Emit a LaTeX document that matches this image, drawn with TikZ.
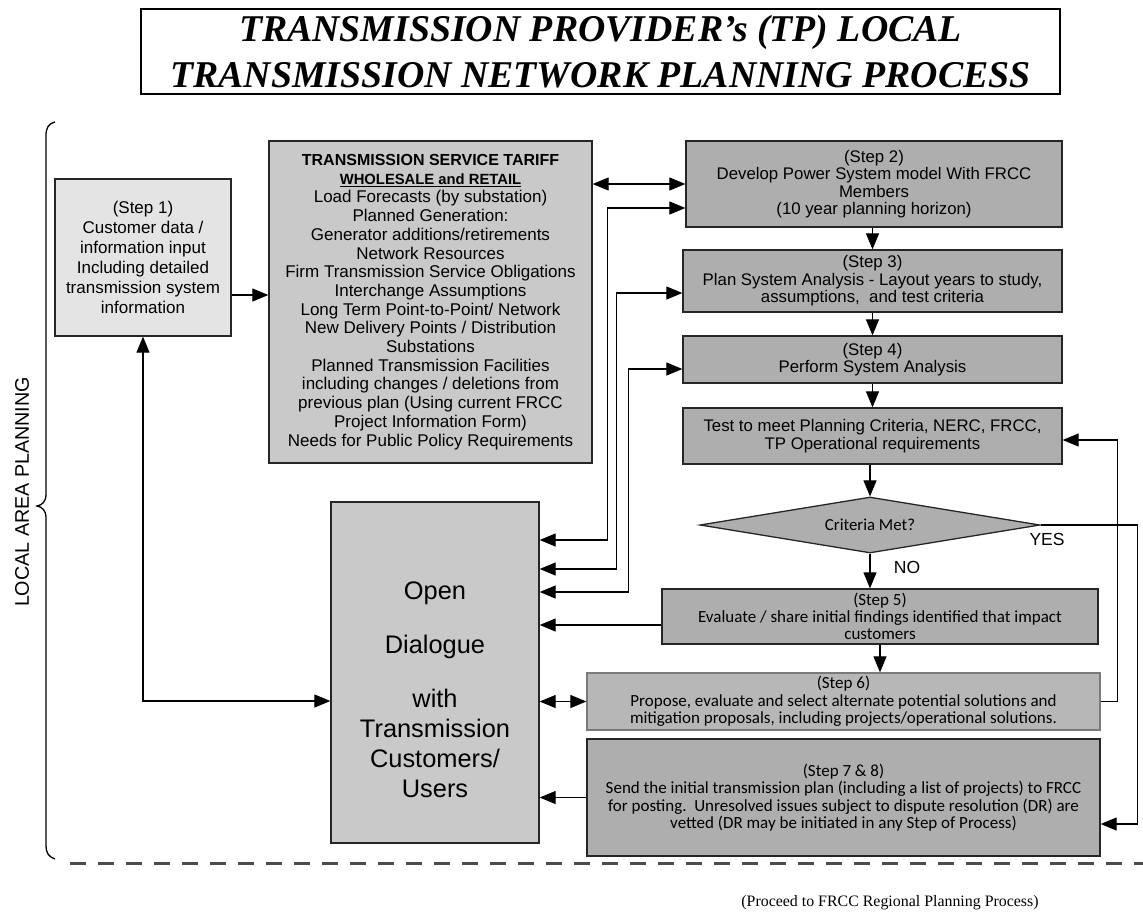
\documentclass[tikz,border=0pt]{standalone}
\usepackage{fontspec}
\setmainfont{Liberation Serif}
\newfontfamily\arialf{Liberation Sans}
\newfontfamily\calf{Carlito}
\usetikzlibrary{arrows.meta,shapes.geometric,calc}
\definecolor{boxdark}{HTML}{AEAEAE}
\definecolor{boxmid}{HTML}{C9C9C9}
\definecolor{boxlight}{HTML}{E4E4E4}
\definecolor{boxsix}{HTML}{B7B7B7}
\definecolor{edge}{HTML}{262626}
\definecolor{edgesix}{HTML}{7A7A7A}
\begin{document}
\begin{tikzpicture}[x=1pt,y=-1pt,
  basebox/.style={draw=edge,line width=1.3pt,inner sep=0pt,align=center},
  stepbox/.style={basebox,fill=boxdark,font=\arialf\fontsize{16.8}{17.4}\selectfont},
  calbox/.style={basebox,fill=boxdark,font=\calf\fontsize{17}{17.3}\selectfont},
  arr/.style={line width=1.2pt,draw=black,-{Triangle[length=16pt,width=13pt]}},
  darr/.style={line width=1.2pt,draw=black,{Triangle[length=16pt,width=13pt]}-{Triangle[length=16pt,width=13pt]}},
  lbl/.style={font=\arialf\fontsize{17.5}{18}\selectfont,inner sep=0pt}]
\useasboundingbox (0,0) rectangle (1143,911);

% title
\node[draw=black,line width=1.3pt,minimum width=919pt,minimum height=85pt,inner sep=0pt,align=center,
  font=\fontsize{37.8}{46}\selectfont\bfseries\itshape] (title) at (600.5,51.5)
  {TRANSMISSION PROVIDER’s (TP) LOCAL\\TRANSMISSION NETWORK PLANNING PROCESS};

% brace and side label
\draw[line width=1.3pt] (55,122) .. controls (48,124) and (46,128) .. (46,136) -- (46,494)
  .. controls (46,502) and (42,505) .. (37,506) .. controls (42,507) and (46,510) .. (46,518)
  -- (46,846) .. controls (46,853) and (49,857) .. (55,859);
\node[rotate=90,font=\arialf\fontsize{19.7}{21}\selectfont,inner sep=0pt] (lap) at (22,492) {LOCAL AREA PLANNING};

% boxes
\node[basebox,fill=boxlight,minimum width=176pt,minimum height=157pt,
  font=\arialf\fontsize{17}{20}\selectfont] (step1) at (143,257.5)
  {(Step 1)\\Customer data /\\information input\\Including detailed\\transmission system\\information};

\node[basebox,fill=boxmid,minimum width=323pt,minimum height=322pt,
  font=\arialf\fontsize{17}{18.7}\selectfont] (tariff) at (430.5,302)
  {{\bfseries\fontsize{16}{18.7}\selectfont TRANSMISSION SERVICE TARIFF}\\
   {\bfseries\fontsize{14.8}{15}\selectfont\underline{WHOLESALE and RETAIL}}\\
   Load Forecasts (by substation)\\
   Planned Generation:\\
   Generator additions/retirements\\
   Network Resources\\
   Firm Transmission Service Obligations\\
   Interchange Assumptions\\
   Long Term Point-to-Point/ Network\\
   New Delivery Points / Distribution\\
   Substations\\
   Planned Transmission Facilities\\
   including changes / deletions from\\
   previous plan (Using current FRCC\\
   Project Information Form)\\
   Needs for Public Policy Requirements};

\node[stepbox,minimum width=376pt,minimum height=86pt] (step2) at (874,184)
  {(Step 2)\\Develop Power System model With FRCC\\Members\\(10 year planning horizon)};
\node[stepbox,minimum width=379pt,minimum height=62pt] (step3) at (872.5,281)
  {(Step 3)\\Plan System Analysis - Layout years to study,\\assumptions,\ \ and test criteria};
\node[stepbox,minimum width=379pt,minimum height=47pt] (step4) at (872.5,359.5)
  {(Step 4)\\Perform System Analysis};
\node[stepbox,minimum width=379pt,minimum height=56pt] (test) at (872.5,436)
  {Test to meet Planning Criteria, NERC, FRCC,\\TP Operational requirements};
\node[diamond,aspect=6,draw=edge,fill=boxdark,line width=1.3pt,minimum width=340pt,minimum height=56pt,
  inner sep=0pt,font=\calf\fontsize{16.8}{18}\selectfont] (crit) at (870,525) {Criteria Met?};
\node[calbox,minimum width=436pt,minimum height=55pt] (step5) at (880,616.5)
  {(Step 5)\\Evaluate / share initial findings identified that impact\\customers};
\node[calbox,draw=edgesix,fill=boxsix,minimum width=513pt,minimum height=57pt] (step6) at (843.5,701.5)
  {(Step 6)\\Propose, evaluate and select alternate potential solutions and\\mitigation proposals, including projects/operational solutions.};
\node[calbox,minimum width=513pt,minimum height=117pt] (step78) at (843.5,797.5)
  {(Step 7 \& 8)\\Send the initial transmission plan (including a list of projects) to FRCC\\
   for posting.\ \ Unresolved issues subject to dispute resolution (DR) are\\
   vetted (DR may be initiated in any Step of Process)};

\node[basebox,fill=boxmid,minimum width=208pt,minimum height=341pt] (open) at (435,672.5) {};
\node[align=center,inner sep=0pt,font=\arialf\fontsize{25.4}{30}\selectfont] (opentext) at (435,690)
  {Open\\[24pt]Dialogue\\[24pt]with\\Transmission\\Customers/\\Users};

% connectors
\coordinate (s1o) at ([yshift=-37.5pt]step1.east);
\draw[arr] (s1o) -- (s1o -| tariff.west);
\coordinate (o1) at ([yshift=-28.5pt]open.west);
\draw[darr] (step1.south) |- (o1);
\draw[darr] (step2.west -| tariff.east) -- (step2.west);

\coordinate (oa) at ([yshift=132.5pt]open.east);
\coordinate (s2a) at ([yshift=-24pt]step2.west);
\draw[darr] (oa) -- ++(68,0) |- (s2a);
\coordinate (ob) at ([yshift=103.5pt]open.east);
\coordinate (s3a) at ([yshift=-12pt]step3.west);
\draw[darr] (ob) -- ++(77,0) |- (s3a);
\coordinate (oc) at ([yshift=80.5pt]open.east);
\coordinate (s4a) at ([yshift=-9.5pt]step4.west);
\draw[darr] (oc) -- ++(89,0) |- (s4a);

\coordinate (s5a) at ([yshift=-8.5pt]step5.west);
\draw[arr] (s5a) -- (s5a -| open.east);
\draw[darr] (step6.west) -- (step6.west -| open.east);
\draw[arr] (step78.west) -- (step78.west -| open.east);

\draw[arr] (step3.north |- step2.south) -- (step3.north);
\draw[arr] (step3.south) -- (step4.north);
\draw[arr] (step4.south) -- (test.north);
\draw[arr] (crit.north |- test.south) -- (crit.north);
\draw[arr] (crit.south) -- (crit.south |- step5.north);
\draw[arr] (step5.south) -- (step5.south |- step6.north);

\coordinate (ta) at ([yshift=-4pt]test.east);
\draw[arr] (step6.east) -- ++(17,0) |- (ta);
\coordinate (s78a) at ([yshift=-26.5pt]step78.east);
\draw[arr] (crit.east) -- ++(97,0) |- (s78a);

\node[lbl] (yes) at (1047,539) {YES};
\node[lbl] (no) at (907,567) {NO};

% separator and footer
\draw[line width=3pt,draw=black!70,dash pattern=on 16pt off 12pt] (70,863) -- (1143,863);
\node[font=\fontsize{15.9}{17}\selectfont,inner sep=0pt] (proceed) at (890,903)
  {(Proceed to FRCC Regional Planning Process)};
\end{tikzpicture}
\end{document}
